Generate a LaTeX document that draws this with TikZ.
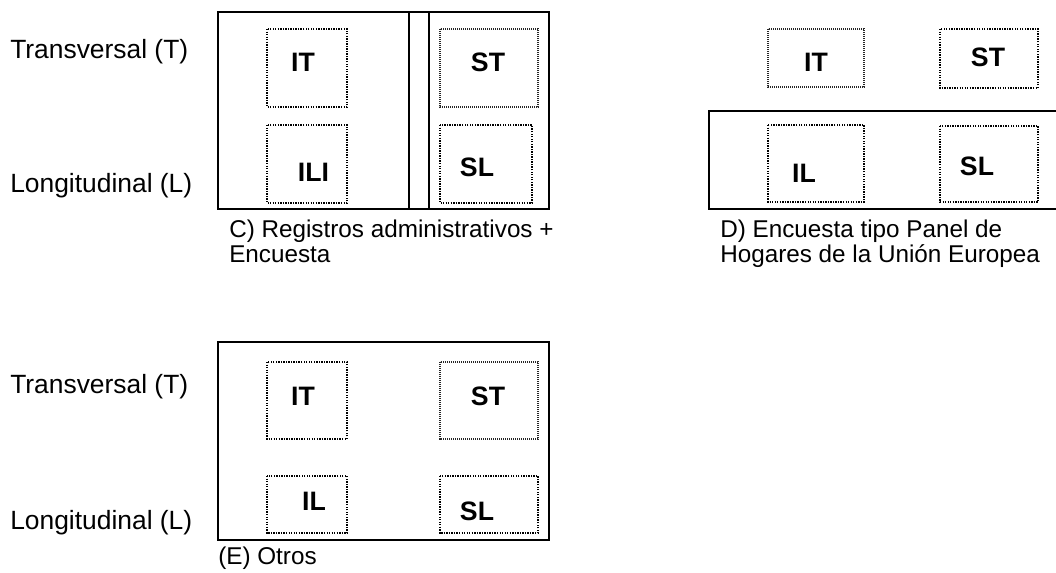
\documentclass[tikz,border=0pt]{standalone}
\usepackage{fontspec}
\setmainfont{Liberation Sans}
\begin{document}
\begin{tikzpicture}[x=0.75pt,y=-0.75pt,
  frame/.style={line width=1.5pt, line cap=rect},
  dotbox/.style={draw, line width=1.4pt, dash pattern=on 1pt off 0.9pt, inner sep=0pt},
  dotboxthin/.style={draw=black!85, line width=1pt, dash pattern=on 0.8pt off 0.7pt, inner sep=0pt},
  cell/.style={font=\fontsize{20}{20}\selectfont\bfseries, inner sep=0pt},
  axis/.style={font=\fontsize{19.8}{22}\selectfont, inner sep=0pt, anchor=base west},
  caption/.style={font=\fontsize{18.2}{18.3}\selectfont, inner sep=0pt, anchor=base west, align=left}]
\useasboundingbox (0,0) rectangle (1056,572);

% ---------- panel C ----------
\node[axis] (cT) at (10,58) {Transversal (T)};
\node[axis] (cL) at (10,192) {Longitudinal (L)};
\draw[frame] (218,12) rectangle (549,209);
\coordinate (cS1t) at (409,12); \coordinate (cS1b) at (409,209);
\coordinate (cS2t) at (429,12); \coordinate (cS2b) at (429,209);
\draw[frame] (cS1t) -- (cS1b);
\draw[frame] (cS2t) -- (cS2b);
\draw[dotbox] (267,29) rectangle (347,107);
\draw[dotbox] (267,125) rectangle (347,203);
\draw[dotboxthin] (440,29) rectangle (538,107);
\draw[dotbox] (440,125) rectangle (532,203);
\node[cell] (cIT) at (303,62.5) {IT};
\node[cell] (cILI) at (313.5,172.5) {ILI};
\node[cell] (cST) at (488,62.5) {ST};
\node[cell] (cSL) at (477,167) {SL};
% the base of a two-line node is its last line
\node[caption] (cCap) at (229,262) {C) Registros administrativos +\\Encuesta};

% ---------- panel D ----------
\draw[frame] (1060,111) -- (709,111) -- (709,208.5) -- (1060,208.5);
\draw[dotboxthin] (768,29) rectangle (864,87);
\draw[dotbox] (940,29) rectangle (1038,88);
\draw[dotbox] (768,125) rectangle (864,202);
\draw[dotbox] (940,126) rectangle (1038,202);
\node[cell] (dIT) at (816,62.5) {IT};
\node[cell] (dST) at (988,57.5) {ST};
\node[cell] (dIL) at (804,173) {IL};
\node[cell] (dSL) at (977,166.5) {SL};
\node[caption] (dCap) at (720,262) {D) Encuesta tipo Panel de\\Hogares de la Unión Europea};

% ---------- panel E ----------
\node[axis] (eT) at (10,393) {Transversal (T)};
\node[axis] (eL) at (10,529) {Longitudinal (L)};
\draw[frame] (218,342) rectangle (549,540);
\draw[dotbox] (267,362) rectangle (347,439);
\draw[dotboxthin] (440,362) rectangle (538,439);
\draw[dotbox] (267,476) rectangle (347,533);
\draw[dotbox] (440,476) rectangle (538,533);
\node[cell] (eIT) at (303,396) {IT};
\node[cell] (eST) at (488,396) {ST};
\node[cell] (eIL) at (314,501) {IL};
\node[cell] (eSL) at (477,511) {SL};
\node[caption] (eCap) at (218,564) {(E) Otros};
\end{tikzpicture}
\end{document}
